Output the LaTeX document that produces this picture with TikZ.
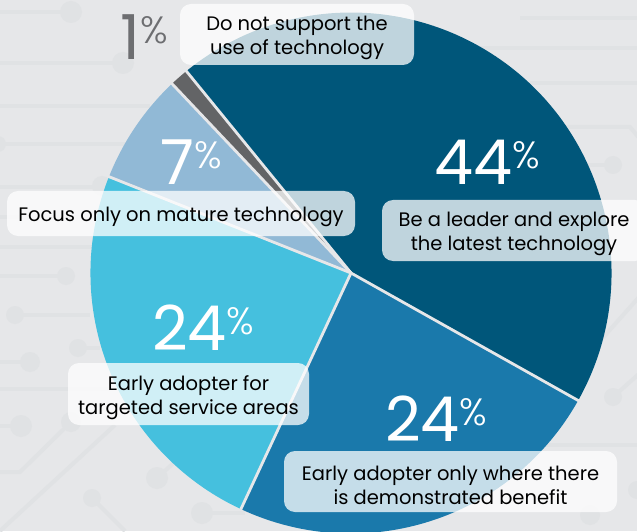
\documentclass[tikz,border=0pt]{standalone}
\usepackage{fontspec}
\setmainfont{Poppins}
\newfontfamily\thinfont{Poppins Light}
\definecolor{bgc}{HTML}{E6E7E9}
\definecolor{trace}{HTML}{E0E2E4}
\definecolor{sliceA}{HTML}{00567A}
\definecolor{sliceB}{HTML}{1A79AB}
\definecolor{sliceC}{HTML}{45C0DE}
\definecolor{sliceD}{HTML}{91B9D6}
\definecolor{sliceE}{HTML}{636466}
\definecolor{pctgray}{HTML}{6D6E71}
\tikzset{
  x=1pt,y=1pt,
  trc/.style={draw=trace,line width=4pt},
  dot/.style={fill=trace},
  sep/.style={draw=bgc,line width=2.8pt},
  lab/.style={fill=white,fill opacity=.75,rounded corners=11pt,inner sep=0pt},
  labtext/.style={inner sep=0pt,align=center,text=black,yshift=-3.5pt,font=\fontsize{19.5pt}{24pt}\selectfont},
  bignum/.style={anchor=base west,inner sep=0pt,text=white,font=\fontsize{62pt}{62pt}\selectfont},
}
\newcommand{\pct}{\raisebox{16pt}{\thinfont\fontsize{38pt}{38pt}\selectfont\%}}
\newcommand{\slicefill}[3]{\fill[#3] (351,258) -- ++(#1:260.5) arc[start angle=#1,end angle=#2,radius=260.5] -- cycle;}
\begin{document}
\begin{tikzpicture}
\useasboundingbox (0,0) rectangle (637,531);
\clip (0,0) rectangle (637,531);
\fill[bgc] (0,0) rectangle (637,531);
% circuit traces
\foreach \y/\a/\b in {519/0/71,468/0/123,425/0/150,387/0/130,344/0/110,314/0/100,284/0/95,255/0/66,216/15/90,183/78/100,169/0/30,142/0/110,105/0/21}
  \draw[trc] (\a,\y) -- (\b,\y);
\foreach \x/\y/\r in {71/519/11,123/468/11,-2/387/8,102/345/10,66/255/9,15/216/9,78/183/9,30/169/10,21/105/11,71/109/10,157/53/11,92/33/9,202/18/11,613/366/9,613/134/9,637/41/9,590/16/10}
  \fill[dot] (\x,\y) circle[radius=\r];
\draw[trc] (0,59) -- (20,59) -- (71,109);
\draw[trc] (0,0) -- (115,106);
\draw[trc] (157,53) -- (178,72);
\draw[trc] (92,33) -- (125,0);
\draw[trc] (202,18) -- (245,18);
\foreach \y/\a/\b in {513/520/637,483/430/637,448/530/637}
  \draw[trc] (\a,\y) -- (\b,\y);
\draw[trc] (560,404) -- (630,404) -- (640,392);
\draw[trc] (613,366) -- (585,366);
\draw[trc] (613,134) -- (640,158);
\draw[trc] (600,190) -- (640,235);
\draw[trc] (530,86) -- (637,86);
% pie
\slicefill{-29.3}{129.2}{sliceA}
\slicefill{-115}{-29.3}{sliceB}
\slicefill{158.3}{245}{sliceC}
\slicefill{133.4}{158.3}{sliceD}
\slicefill{129.2}{133.4}{sliceE}
\foreach \a in {-29.3,-115,158.3,133.4,129.2}
  \draw[sep] (351,258) -- ++(\a:262);
% numbers
\node[bignum] (n44) at (434,346) {44\pct};
\node[bignum] (n24a) at (152,181) {24\pct};
\node[bignum] (n24b) at (385,90) {24\pct};
\node[bignum] (n7) at (160,346) {7\pct};
\node[bignum,text=pctgray] (n1) at (120,471) {1\pct};
% labels
\node[lab,minimum width=234,minimum height=61] (l1) at (297,496.5) {};
\node[labtext] (t1) at (l1) {Do not support the\\use of technology};
\node[lab,minimum width=348,minimum height=45] (l2) at (181,317.5) {};
\node[labtext] (t2) at (l2) {Focus only on mature technology};
\node[lab,minimum width=264,minimum height=61] (l3) at (514,300.5) {};
\node[labtext] (t3) at (l3) {Be a leader and explore\\the latest technology};
\node[lab,minimum width=241,minimum height=62] (l4) at (188.5,137) {};
\node[labtext] (t4) at (l4) {Early adopter for\\targeted service areas};
\node[lab,minimum width=333,minimum height=61] (l5) at (450.5,49.5) {};
\node[labtext] (t5) at (l5) {Early adopter only where there\\is demonstrated benefit};
\end{tikzpicture}
\end{document}
